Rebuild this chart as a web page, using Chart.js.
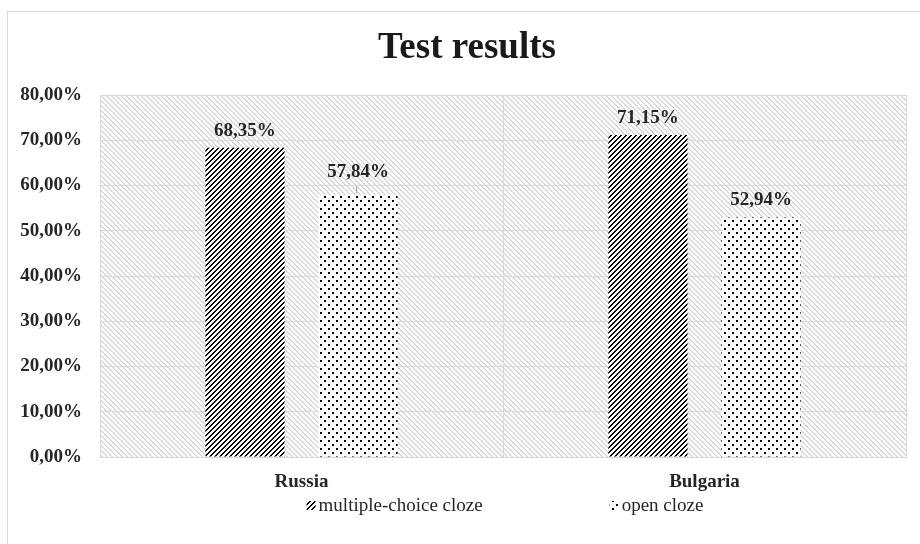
<!DOCTYPE html>
<html>
<head>
<meta charset="utf-8">
<script src="https://cdn.jsdelivr.net/npm/chart.js@4"></script>
<style>
  html, body { margin: 0; padding: 0; background: #fff; }
  canvas { display: block; }
</style>
</head>
<body>
<canvas id="chart" width="920" height="544"></canvas>
<script>
const categories = ['Russia', 'Bulgaria'];
const multipleChoice = [68.35, 71.15];
const openCloze = [57.84, 52.94];
const seriesNames = ['multiple-choice cloze', 'open cloze'];
const yTickLabels = ['0,00%', '10,00%', '20,00%', '30,00%', '40,00%', '50,00%', '60,00%', '70,00%', '80,00%'];

const ctx = document.getElementById('chart').getContext('2d');

// small bitmap tiles like the Excel fill patterns
function makePattern(size, fg, bg, test) {
  const c = document.createElement('canvas');
  c.width = size;
  c.height = size;
  const t = c.getContext('2d');
  t.fillStyle = bg;
  t.fillRect(0, 0, size, size);
  t.fillStyle = fg;
  for (let y = 0; y < size; y++) {
    for (let x = 0; x < size; x++) {
      if (test(x, y)) t.fillRect(x, y, 1, 1);
    }
  }
  return ctx.createPattern(c, 'repeat');
}

const plotBg = makePattern(5, '#dadada', '#ffffff', (x, y) => ((x - y + 50) % 5) < 2);
const hatch = makePattern(5, '#000000', '#ffffff', (x, y) => ((x + y) % 5) < 2);
const dots = makePattern(8, '#000000', '#ffffff', (x, y) =>
  (x < 2 && y < 2) || (x >= 4 && x < 6 && y >= 4 && y < 6));

const fmt = v => v.toFixed(2).replace('.', ',') + '%';
const textColor = '#262626';
const gridColor = '#d9d9d9';

const decor = {
  id: 'decor',
  beforeDraw(chart) {
    const c = chart.ctx;
    const a = chart.chartArea;
    c.save();
    c.strokeStyle = gridColor;
    c.lineWidth = 1;
    c.strokeRect(7.5, 11.5, 1000, 1000);
    c.fillStyle = plotBg;
    c.fillRect(a.left, a.top, a.right - a.left, a.bottom - a.top);
    c.restore();
  },
  afterDatasetsDraw(chart) {
    const c = chart.ctx;
    c.save();
    c.font = 'bold 19px "Liberation Serif"';
    c.fillStyle = textColor;
    c.textAlign = 'center';
    c.textBaseline = 'alphabetic';
    chart.data.datasets.forEach((ds, di) => {
      chart.getDatasetMeta(di).data.forEach((el, i) => {
        const lifted = di === 1 && i === 0;
        const base = el.y - (lifted ? 18 : 12);
        c.fillText(fmt(ds.data[i]), el.x, base);
        if (lifted) {
          c.strokeStyle = '#a6a6a6';
          c.lineWidth = 1;
          c.beginPath();
          c.moveTo(el.x - 1.5, el.y - 9);
          c.lineTo(el.x - 1.5, el.y - 2);
          c.stroke();
        }
      });
    });

    // legend under the axis
    const a = chart.chartArea;
    c.font = '19px "Liberation Serif"';
    c.textAlign = 'left';
    c.textBaseline = 'middle';
    const fills = [hatch, dots];
    const gap = 127;
    const widths = seriesNames.map(n => 12 + c.measureText(n).width);
    const total = widths[0] + gap + widths[1];
    let x = (a.left + a.right) / 2 - total / 2 + 2;
    const y = 506;
    seriesNames.forEach((n, i) => {
      c.fillStyle = fills[i];
      c.fillRect(x, y - 5, 9, 9);
      c.fillStyle = textColor;
      c.fillText(n, x + 12, y);
      x += widths[i] + gap;
    });
    c.restore();
  }
};

new Chart(ctx, {
  type: 'bar',
  data: {
    labels: categories,
    datasets: [
      {
        label: seriesNames[0],
        data: multipleChoice,
        backgroundColor: hatch,
        borderWidth: 0,
        categoryPercentage: 0.561,
        barPercentage: 0.7
      },
      {
        label: seriesNames[1],
        data: openCloze,
        backgroundColor: dots,
        borderWidth: 0,
        categoryPercentage: 0.561,
        barPercentage: 0.7
      }
    ]
  },
  options: {
    responsive: false,
    animation: false,
    events: [],
    layout: {
      padding: { left: 14, right: 0, top: 0, bottom: 47 }
    },
    plugins: {
      legend: { display: false },
      tooltip: { enabled: false },
      title: {
        display: true,
        text: 'Test results',
        color: '#1a1a1a',
        font: { family: '"Liberation Serif"', size: 37, weight: 'bold', lineHeight: 1.2 },
        padding: { top: 26, bottom: 24.6 }
      }
    },
    scales: {
      x: {
        grid: { color: gridColor, offset: true, drawTicks: false },
        border: { color: gridColor },
        ticks: {
          color: textColor,
          padding: 14,
          font: { family: '"Liberation Serif"', size: 19, weight: 'bold' }
        },
        afterFit(scale) { scale.height = 40; }
      },
      y: {
        min: 0,
        max: 80,
        grid: { color: gridColor, drawTicks: false },
        border: { color: gridColor },
        ticks: {
          stepSize: 10,
          color: textColor,
          padding: 18,
          font: { family: '"Liberation Serif"', size: 19, weight: 'bold' },
          callback: (v, i) => yTickLabels[i]
        },
        afterFit(scale) { scale.width = 86; }
      },
      // empty strip that keeps the plot off the right edge
      yRight: {
        position: 'right',
        min: 0,
        max: 80,
        grid: { display: false, drawTicks: false },
        border: { display: false },
        ticks: { display: false },
        afterFit(scale) { scale.width = 14; }
      }
    }
  },
  plugins: [decor]
});
</script>
</body>
</html>
